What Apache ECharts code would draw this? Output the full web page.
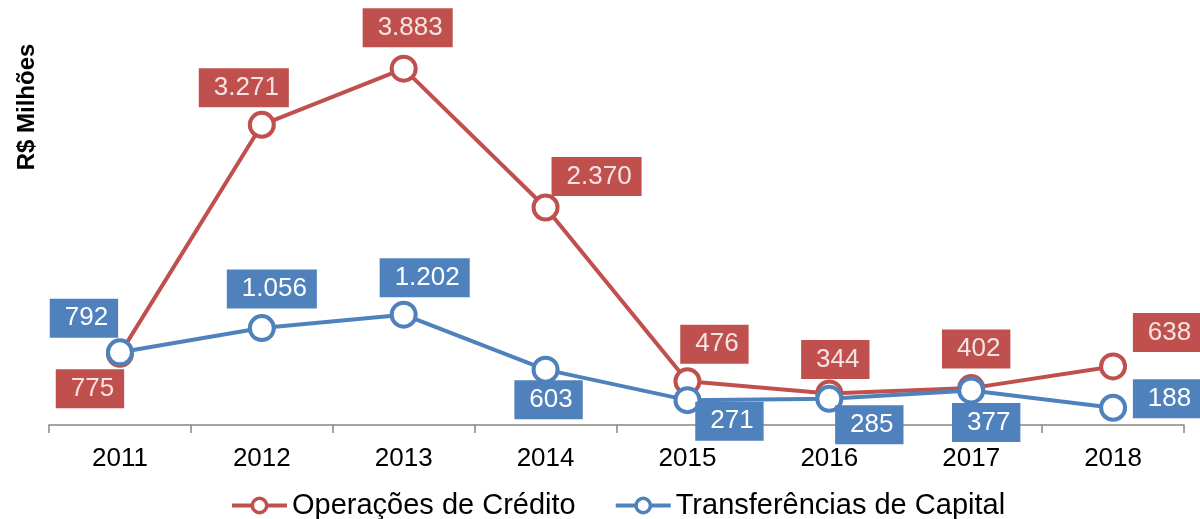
<!DOCTYPE html>
<html>
<head>
<meta charset="utf-8">
<script src="https://cdn.jsdelivr.net/npm/echarts@6/dist/echarts.min.js"></script>
<style>
    html,body{margin:0;padding:0;background:#fff;}
    #main{width:1200px;height:519px;}
</style>
</head>
<body>
<div id="main"></div>
<script>
var anos = ['2011','2012','2013','2014','2015','2016','2017','2018'];
var operacoes = [775, 3271, 3883, 2370, 476, 344, 402, 638];
var transferencias = [792, 1056, 1202, 603, 271, 285, 377, 188];
var rotulosOper = ['775','3.271','3.883','2.370','476','344','402','638'];
var rotulosTransf = ['792','1.056','1.202','603','271','285','377','188'];

// deslocamento das caixas de rótulo em relação ao ponto
var offOper = [[-30,35],[-18,-37],[4,-41],[51,-31],[27,-37],[6,-34],[5,-39],[54,-34]];
var offTransf = [[-36,-34],[10,-39],[21,-37],[3,30],[42,21],[40,26],[15,32],[54,-9]];

var vermelho = '#C0504D';
var azul = '#4F81BD';

function montaDados(valores, rotulos, offs, cor, corTexto) {
    return valores.map(function (v, i) {
        return {
            value: v,
            label: {
                show: true,
                position: 'inside',
                offset: offs[i],
                formatter: rotulos[i],
                backgroundColor: cor,
                color: corTexto,
                fontSize: 26,
                fontFamily: 'Liberation Sans, Arial, sans-serif',
                lineHeight: 29,
                padding: [6, 10, 4, 15]
            }
        };
    });
}

var chart = echarts.init(document.getElementById('main'));
var option = {
    animation: false,
    grid: {left: 49, right: 16, top: 12, bottom: 94},
    legend: {
        left: 225,
        top: 486,
        itemWidth: 55,
        itemHeight: 18,
        itemGap: 38,
        lineStyle: {width: 4},
        itemStyle: {borderWidth: 3.5},
        textStyle: {fontSize: 29, color: '#000', fontFamily: 'Liberation Sans, Arial, sans-serif'},
        data: ['Operações de Crédito', 'Transferências de Capital']
    },
    xAxis: {
        type: 'category',
        data: anos,
        boundaryGap: true,
        axisLine: {lineStyle: {color: '#868686', width: 1.5}},
        axisTick: {show: true, length: 8, lineStyle: {color: '#868686', width: 1.5}},
        axisLabel: {color: '#000', fontSize: 26, margin: 21, fontFamily: 'Liberation Sans, Arial, sans-serif'}
    },
    yAxis: {type: 'value', min: 0, max: 4500, show: false},
    graphic: [{
        type: 'text',
        x: 27,
        y: 107,
        rotation: Math.PI / 2,
        style: {
            text: 'R$ Milhões',
            font: 'bold 24px "Liberation Sans", Arial, sans-serif',
            fill: '#000',
            textAlign: 'center',
            textVerticalAlign: 'middle'
        }
    }],
    series: [
        {
            name: 'Operações de Crédito',
            type: 'line',
            data: montaDados(operacoes, rotulosOper, offOper, vermelho, '#F5E4E3'),
            symbol: 'circle',
            symbolSize: 24,
            itemStyle: {color: '#fff', borderColor: vermelho, borderWidth: 4},
            lineStyle: {color: vermelho, width: 4}
        },
        {
            name: 'Transferências de Capital',
            type: 'line',
            data: montaDados(transferencias, rotulosTransf, offTransf, azul, '#fff'),
            symbol: 'circle',
            symbolSize: 24,
            itemStyle: {color: '#fff', borderColor: azul, borderWidth: 4},
            lineStyle: {color: azul, width: 4}
        }
    ]
};
chart.setOption(option);
</script>
</body>
</html>
